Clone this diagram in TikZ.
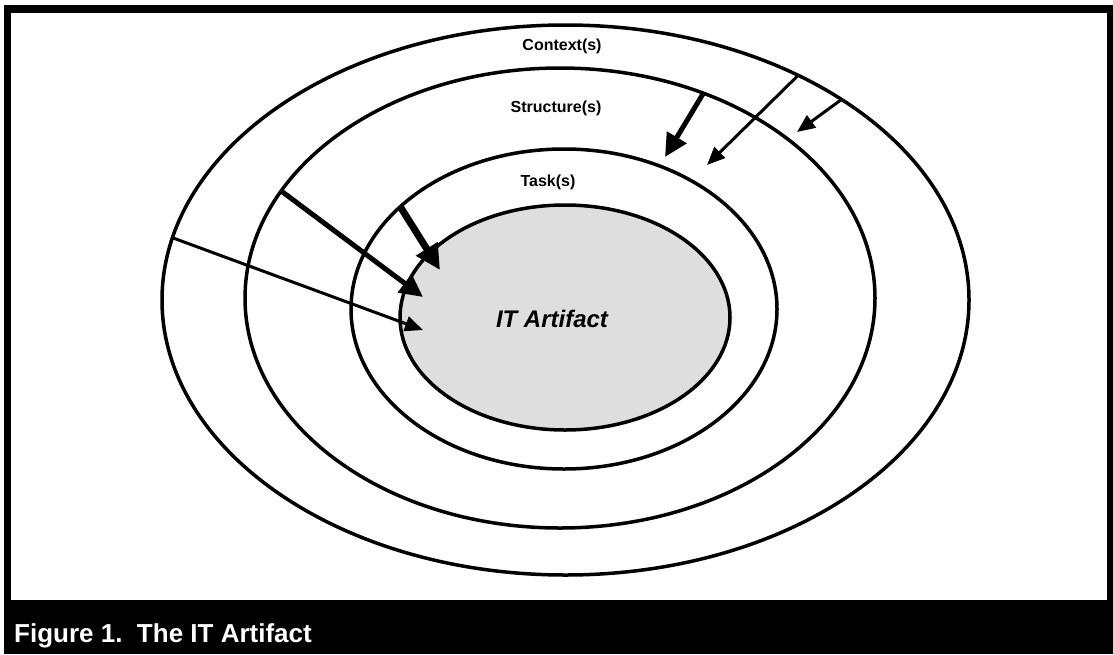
\documentclass[tikz,border=0pt]{standalone}
\usepackage{fontspec}
\setmainfont{Liberation Sans}
\usetikzlibrary{arrows.meta,shapes.geometric}
\begin{document}
\begin{tikzpicture}[x=1pt,y=-1pt,
  ring/.style={draw=black, line width=3.5pt, ellipse, inner sep=0pt, outer sep=0pt},
  lab/.style={font=\bfseries\fontsize{16}{19}\selectfont, inner sep=0pt},
  thinarrow/.style={line width=3pt, -{Triangle[length=18pt,width=15pt]}},
  medarrow/.style={line width=5pt, -{Triangle[length=23pt,width=22pt]}},
  fatarrow/.style={line width=7pt, -{Triangle[length=25pt,width=24pt]}},
]
\useasboundingbox (0,0) rectangle (1113,654);
\fill[white] (0,0) rectangle (1113,654);
\fill[black] (4,5) rectangle (1113,654);
\fill[white] (11,13) rectangle (1107,600);

\node[ring, minimum width=807pt, minimum height=550pt] (ctx) at (565.5,300) {};
\node[ring, minimum width=630pt, minimum height=460pt] (str) at (560,298) {};
\node[ring, minimum width=426pt, minimum height=320pt] (tsk) at (564,309) {};
\node[ring, fill=black!13, minimum width=330pt, minimum height=225pt] (art) at (565,317.5) {};

\node[lab] (lctx) at (562,46) {Context(s)};
\node[lab] (lstr) at (556,108) {Structure(s)};
\node[lab] (ltsk) at (548,182) {Task(s)};
\node[font=\bfseries\itshape\fontsize{24}{28}\selectfont, inner sep=0pt] (lart) at (552,318.5) {IT Artifact};

\node[font=\bfseries\fontsize{26}{30}\selectfont, text=white, anchor=base west, inner sep=0pt] (cap) at (14,642) {Figure 1.\ \ The IT Artifact};

\coordinate (t1) at (423,330);
\coordinate (t2) at (423,297);
\coordinate (t3) at (440,270);
\coordinate (t4) at (665,157);
\coordinate (t5) at (707,165);
\coordinate (t6) at (797,132);
\draw[thinarrow] (ctx.171.4) -- (t1);
\draw[medarrow] (str.159.4) -- (t2);
\draw[fatarrow] (tsk.148.4) -- (t3);
\draw[medarrow] (str.55.2) -- (t4);
\draw[thinarrow] (ctx.44.7) -- (t5);
\draw[thinarrow] (ctx.36.4) -- (t6);
\end{tikzpicture}
\end{document}
